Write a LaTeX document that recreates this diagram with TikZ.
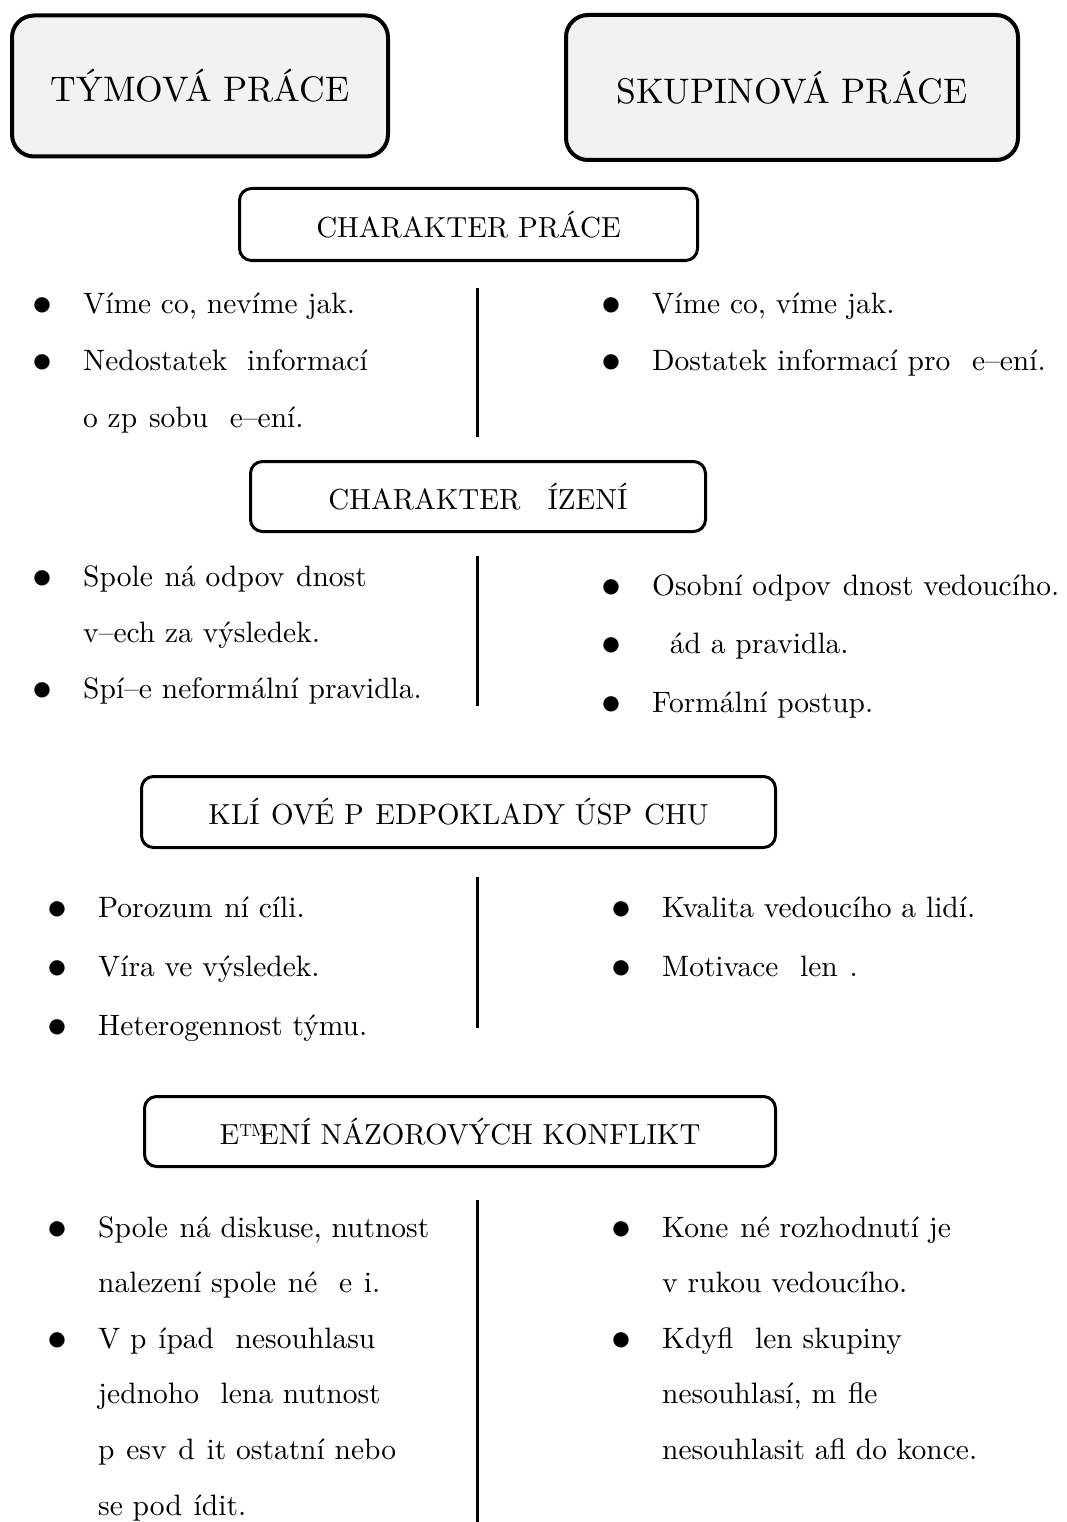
\documentclass[tikz,border=0pt]{standalone}
\usepackage{fontspec}
\IfFontExistsTF{lmroman10-regular.otf}{\setmainfont{lmroman10-regular.otf}}{}
\newfontfamily\dotfont{DejaVu Sans}
\usepackage{tikz}
\usetikzlibrary{shapes.geometric, arrows}

\definecolor{boxgray}{HTML}{F2F2F2}
\tikzstyle{title} = [rectangle, rounded corners=22pt, draw=black, line width=4pt, fill=boxgray, font=\fontsize{35.5}{42}\selectfont, text centered]
\tikzstyle{heading} = [rectangle, rounded corners=12pt, draw=black, line width=3pt, fill=white, font=\fontsize{29}{35}\selectfont, text centered]
\tikzstyle{items} = [anchor=base west, inner sep=0pt, align=left]
\tikzstyle{divider} = [line width=3pt]

\newcommand{\bul}{\makebox[47.5pt][l]{\makebox[13pt]{\raisebox{3pt}{\dotfont\fontsize{20}{20}\selectfont ●}}}}
\newcommand{\ind}{\hspace*{47.5pt}}
\newcommand{\gap}{\hspace{.4em}}

\begin{document}
\begin{tikzpicture}[x=1pt, y=-1pt]
    \useasboundingbox (0,0) rectangle (1066,1522);

    \node (1) [title, minimum width=376pt, minimum height=141pt] at (200,86) {TÝMOVÁ PRÁCE};
    \node (2) [title, minimum width=452pt, minimum height=145pt] at (792,87.5) {SKUPINOVÁ PRÁCE};

    % charakter prace (items placed by the baseline of their last line)
    \node (3) [heading, minimum width=458pt, minimum height=72pt] at (468.5,224.5) {CHARAKTER PRÁCE};
    \node (3l) [items, font=\fontsize{29.5}{57}\selectfont] at (35.5,427)
        {\bul Víme co, nevíme jak.\\
         \bul Nedostatek\ \ informací\\
         \ind o zp\gap sobu \gap e–ení.};
    \node (3r) [items, font=\fontsize{29.5}{57}\selectfont] at (604.5,370)
        {\bul Víme co, víme jak.\\
         \bul Dostatek informací pro \gap e–ení.};
    \coordinate (d1a) at (477,288);
    \coordinate (d1b) at (477,437);
    \draw [divider] (d1a) -- (d1b);

    % charakter rizeni
    \node (4) [heading, minimum width=455pt, minimum height=70pt] at (478,496.5) {CHARAKTER \hspace{.6em}ÍZENÍ};
    \node (4l) [items, font=\fontsize{29.5}{56}\selectfont] at (35.5,698)
        {\bul Spole\gap ná odpov\gap dnost\\
         \ind v–ech za výsledek.\\
         \bul Spí–e neformální pravidla.};
    \node (4r) [items, font=\fontsize{29.5}{58.5}\selectfont] at (604.5,712)
        {\bul Osobní odpov\gap dnost vedoucího.\\
         \bul \hspace{.6em}ád a pravidla.\\
         \bul Formální postup.};
    \coordinate (d2a) at (477,556);
    \coordinate (d2b) at (477,706);
    \draw [divider] (d2a) -- (d2b);

    % predpoklady uspechu
    \node (5) [heading, minimum width=634pt, minimum height=71pt] at (458.5,812) {KLÍ\gap OVÉ P\gap EDPOKLADY ÚSP\gap CHU};
    \node (5l) [items, font=\fontsize{29.5}{59}\selectfont] at (50.5,1035)
        {\bul Porozum\gap ní cíli.\\
         \bul Víra ve výsledek.\\
         \bul Heterogennost týmu.};
    \node (5r) [items, font=\fontsize{29.5}{59}\selectfont] at (614.5,976)
        {\bul Kvalita vedoucího a lidí.\\
         \bul Motivace \gap len\gap .};
    \coordinate (d3a) at (477,877);
    \coordinate (d3b) at (477,1028);
    \draw [divider] (d3a) -- (d3b);

    % konflikty
    \node (6) [heading, minimum width=631pt, minimum height=70pt] at (460,1131.5) {E™\kern-.3em ENÍ NÁZOROVÝCH KONFLIKT};
    \node (6l) [items, font=\fontsize{29.5}{55.6}\selectfont] at (50.5,1515)
        {\bul Spole\gap ná diskuse, nutnost\\
         \ind nalezení spole\gap né \gap e\gap i.\\
         \bul V p\gap ípad\gap\ nesouhlasu\\
         \ind jednoho \gap lena nutnost\\
         \ind p\gap esv\gap d\gap it ostatní nebo\\
         \ind se pod\gap ídit.};
    \node (6r) [items, font=\fontsize{29.5}{55.6}\selectfont] at (614.5,1459.4)
        {\bul Kone\gap né rozhodnutí je\\
         \ind v rukou vedoucího.\\
         \bul Kdyfl \gap len skupiny\\
         \ind nesouhlasí, m\gap fle\\
         \ind nesouhlasit afl do konce.};
    \coordinate (d4a) at (477,1200);
    \coordinate (d4b) at (477,1522);
    \draw [divider] (d4a) -- (d4b);
\end{tikzpicture}
\end{document}
